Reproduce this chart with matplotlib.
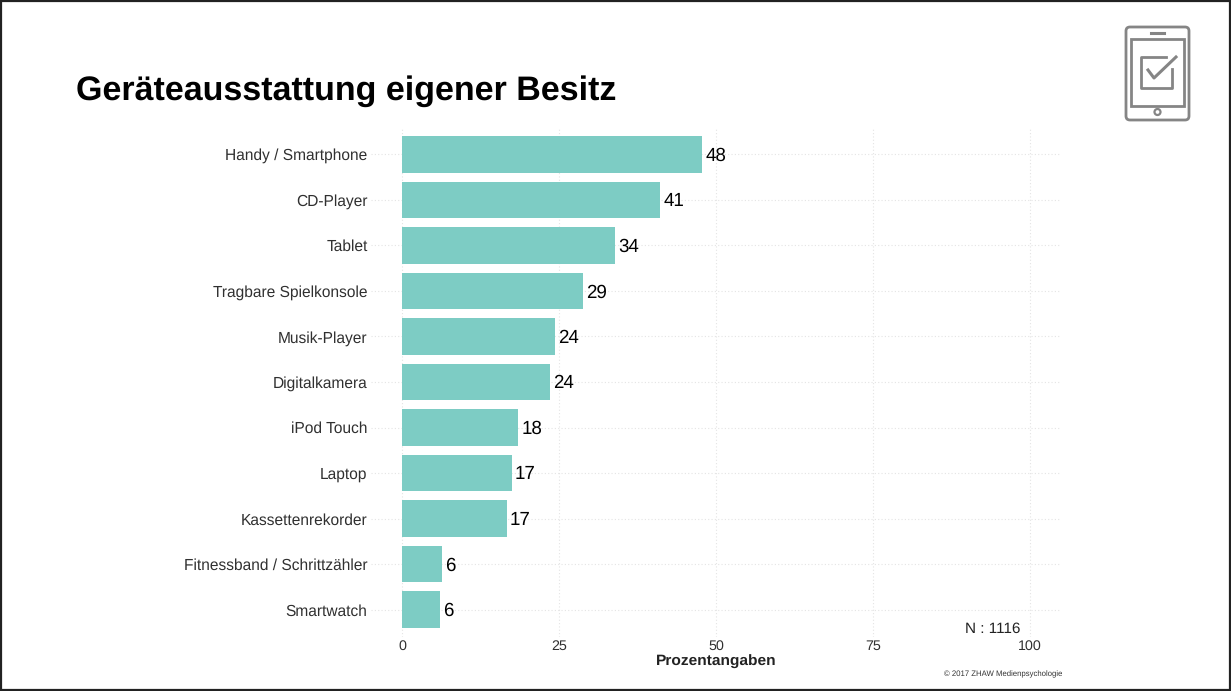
import matplotlib
matplotlib.use("Agg")
import matplotlib.pyplot as plt
from matplotlib.patches import FancyBboxPatch, Rectangle, Circle
from matplotlib.lines import Line2D

categories = ["Handy / Smartphone", "CD-Player", "Tablet", "Tragbare Spielkonsole",
              "Musik-Player", "Digitalkamera", "iPod Touch", "Laptop",
              "Kassettenrekorder", "Fitnessband / Schrittzähler", "Smartwatch"]
values = [47.8, 41.1, 33.9, 28.8, 24.4, 23.6, 18.5, 17.5, 16.7, 6.4, 6.0]
value_labels = ["48", "41", "34", "29", "24", "24", "18", "17", "17", "6", "6"]
x_ticks = [0, 25, 50, 75, 100]

W, H = 1231, 691
plt.rcParams["font.family"] = ["Liberation Sans", "DejaVu Sans"]
plt.rcParams["text.hinting"] = "no_hinting"
plt.rcParams["text.hinting_factor"] = 8
fig = plt.figure(figsize=(W / 100, H / 100), dpi=100, facecolor="white")

def fx(p): return p / W
def fy(p): return 1 - p / H

L, R, T, B = 370.6, 1061.4, 127, 637
ax = fig.add_axes([fx(L), fy(B), (R - L) / W, (B - T) / H])
positions = list(range(len(categories), 0, -1))
ax.barh(positions, values, height=0.8, color="#7dccc4", zorder=3)
for y, v, s in zip(positions, values, value_labels):
    ax.text(v + 0.5, y + 0.01, s, va="center_baseline", ha="left", fontsize=13.5, color="black", zorder=4)
ax.set_xlim(-5, 105)
ax.set_ylim(0.4, 11.6)
ax.set_yticks(positions)
ax.set_yticklabels(categories, fontsize=11.2, color="#303030")
ax.set_xticks(x_ticks)
ax.set_xticklabels([str(t) for t in x_ticks], fontsize=10.3, color="#303030")
ax.tick_params(length=0)
ax.tick_params(axis="y", pad=2.2)
ax.tick_params(axis="x", pad=1.8)
ax.grid(True, color="#e4e4e4", linestyle=(0, (1, 2)), linewidth=0.8, zorder=0)
ax.set_axisbelow(True)
for s in ax.spines.values():
    s.set_visible(False)

fig.text(fx(716), fy(662), "Prozentangaben", ha="center", va="center",
         fontsize=11.15, fontweight="bold", color="#222222")
fig.text(fx(992.5), fy(629), "N : 1116", ha="center", va="center", fontsize=11, color="#222222")
fig.text(fx(1003), fy(674), "© 2017 ZHAW Medienpsychologie", ha="center", va="center",
         fontsize=5.6, color="#333333")
fig.text(fx(76), fy(91), "Geräteausstattung eigener Besitz", ha="left", va="center",
         fontsize=24.5, fontweight="bold", color="black")

# slide frame
fig.add_artist(Rectangle((fx(1), fy(690)), (W - 2) / W, 689 / H, transform=fig.transFigure,
                         fill=False, edgecolor="#222222", linewidth=1.6))

# tablet icon, figure pixel coordinates
overlay = fig.add_axes([0, 0, 1, 1], facecolor="none")
overlay.set_xlim(0, W)
overlay.set_ylim(H, 0)
overlay.axis("off")
g = "#858585"
overlay.add_patch(FancyBboxPatch((1126, 27), 63, 93,
                                 boxstyle="round,pad=0,rounding_size=4", fill=False, edgecolor=g, linewidth=2))
overlay.add_patch(Rectangle((1131, 39), 53, 67, fill=False, edgecolor=g, linewidth=2))
overlay.add_line(Line2D([1151, 1164], [33, 33], color=g, linewidth=2.2))
overlay.add_patch(Circle((1157.5, 112), 3, fill=False, edgecolor=g, linewidth=1.6))
overlay.add_line(Line2D([1166, 1141, 1141, 1172, 1172], [57, 57, 88, 88, 69], color=g, linewidth=2))
overlay.add_line(Line2D([1148, 1154, 1176], [70, 78, 57], color=g, linewidth=2.2))

fig.savefig("out.png", dpi=100, facecolor="white")
